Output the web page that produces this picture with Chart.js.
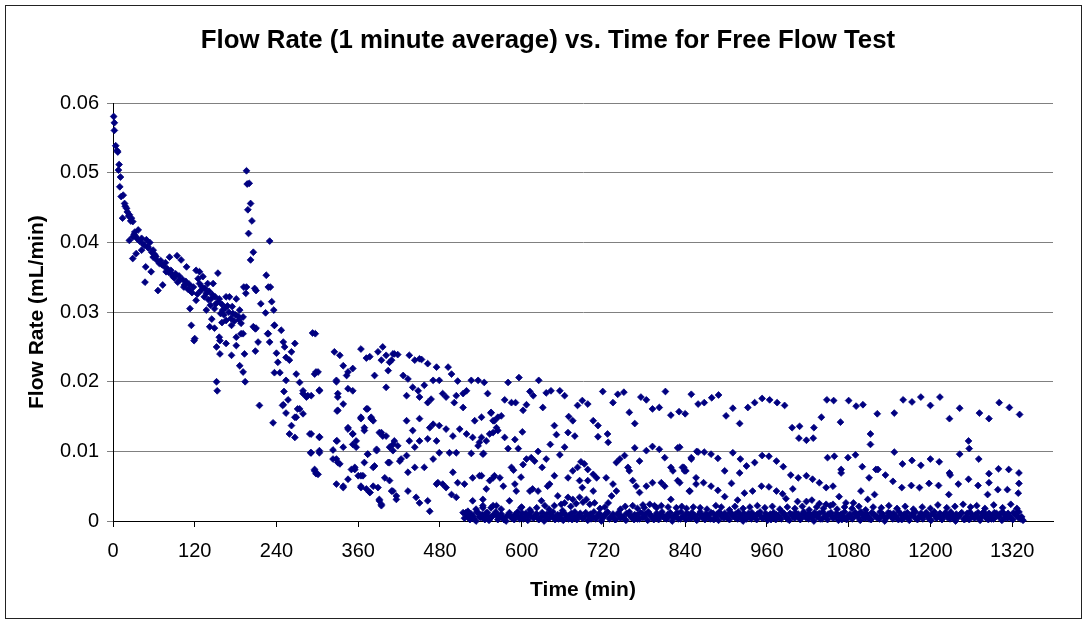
<!DOCTYPE html>
<html>
<head>
<meta charset="utf-8">
<title>Flow Rate vs. Time</title>
<script src="https://cdn.jsdelivr.net/npm/chart.js@4.4.1/dist/chart.umd.min.js"></script>
<style>
  html, body { margin: 0; padding: 0; background: #fff; }
  #wrap { position: relative; width: 1086px; height: 620px; }
  #frame { position: absolute; left: 5px; top: 5px; width: 1077px; height: 614px;
           border: 1px solid #222; box-sizing: border-box; pointer-events: none; }
  #chart { position: absolute; left: 0; top: 0; }
</style>
</head>
<body>
<div id="wrap">
  <canvas id="chart" width="1086" height="620"></canvas>
  <div id="frame"></div>
</div>
<script>
// Chart text
const chartTitle = 'Flow Rate (1 minute average) vs. Time for Free Flow Test';
const xTitle = 'Time (min)';
const yTitle = 'Flow Rate (mL/min)';

// Tick labels
const xTickValues = [0, 120, 240, 360, 480, 600, 720, 840, 960, 1080, 1200, 1320];
const yTickValues = [0, 0.01, 0.02, 0.03, 0.04, 0.05, 0.06];

// [time (min), flow rate (mL/min)]
const earlyDecay = [
  [1,0.0581],[2,0.0572],[2,0.0561],[4,0.0539],[6,0.0532],[7,0.0530],[9,0.0512],[8,0.0504],[11,0.0494],[10,0.0480],
  [15,0.0468],[12,0.0466],[17,0.0456],[20,0.0449],[14,0.0435],[24,0.0440],[27,0.0435],[29,0.0430],[32,0.0415],[29,0.0408],
  [24,0.0403],[37,0.0418],[42,0.0406],[49,0.0404],[54,0.0400],[51,0.0394],[34,0.0384],[29,0.0377],[42,0.0389],[59,0.0389],
  [59,0.0379],[64,0.0375],[68,0.0370],[48,0.0365],[83,0.0379],[94,0.0381],[100,0.0375],[56,0.0358],[47,0.0343],[66,0.0331],
  [73,0.0339],[78,0.0358],[88,0.0351],[98,0.0346],[108,0.0365],[105,0.0339],[122,0.0360],[127,0.0358],[132,0.0351],[127,0.0341],
  [139,0.0341],[147,0.0341],[154,0.0356],[113,0.0331],[122,0.0317],[113,0.0305],[137,0.0327],[144,0.0319],[156,0.0319],[166,0.0322],
  [171,0.0322],[181,0.0319],[137,0.0303],[149,0.0305],[161,0.0303],[166,0.0288],[176,0.0298],[186,0.0303],[191,0.0293],[115,0.0281],
  [120,0.0262],[142,0.0279],[149,0.0277],[156,0.0264],[174,0.0281],[181,0.0264],[191,0.0269],[196,0.0336],[208,0.0334],[210,0.0331],
  [217,0.0312],[224,0.0299],[228,0.0336],[231,0.0336],[225,0.0353],[233,0.0315],[236,0.0303],[237,0.0281],[247,0.0274],[206,0.0279],
  [210,0.0277],[228,0.0269],[18,0.0452],[21,0.0444],[23,0.0438],[26,0.0431],[31,0.0412],[33,0.0409],[36,0.0405],[39,0.0402],
  [44,0.0398],[46,0.0396],[52,0.0392],[57,0.0386],[61,0.0383],[63,0.0380],[70,0.0374],[72,0.0368],[75,0.0366],[77,0.0371],
  [80,0.0362],[82,0.0357],[85,0.0360],[87,0.0354],[90,0.0349],[92,0.0355],[95,0.0343],[97,0.0352],[102,0.0347],[104,0.0336],
  [107,0.0344],[110,0.0333],[112,0.0340],[116,0.0328],[118,0.0336],[124,0.0326],[129,0.0331],[134,0.0322],[140,0.0318],[143,0.0310],
  [151,0.0312],[158,0.0298],[163,0.0296],[168,0.0309],[173,0.0291],[178,0.0287],[184,0.0294],[188,0.0284],
  [125,0.0348],[130,0.0337],[135,0.0334],[141,0.0330],[146,0.0325],[150,0.0322],[155,0.0315],[160,0.0311],[165,0.0306],[170,0.0300],
  [175,0.0308],[180,0.0296],[185,0.0289],[145,0.0290],[160,0.0285],
  [196,0.0503],[197,0.0484],[200,0.0485],[202,0.0456],[198,0.0447],[204,0.0431],[199,0.0413],[206,0.0386],[202,0.0375],[230,0.0402],
  [192,0.0336],[195,0.0327],[119,0.0259],[157,0.0259],[157,0.0240],[152,0.0250],[166,0.0255],[174,0.0238],[181,0.0252],[186,0.0223],
  [191,0.0214],[194,0.0200],[152,0.0200],[153,0.0187],[188,0.0269],[193,0.0240],[209,0.0244],[213,0.0257],[209,0.0276],[215,0.0166],
  [227,0.0269],[230,0.0257],[237,0.0281],[240,0.0241],[242,0.0228],[237,0.0213],[245,0.0213],[235,0.0141],[249,0.0166]
];

const transition = [
  [250,0.0257],[252,0.0250],[259,0.0231],[254,0.0235],[267,0.0255],[262,0.0243],[254,0.0202],[251,0.0186],[257,0.0174],[250,0.0167],
  [269,0.0211],[274,0.0199],[279,0.0187],[284,0.0178],[271,0.0161],[279,0.0154],[291,0.0180],[296,0.0211],[298,0.0214],[303,0.0187],
  [297,0.0269],[325,0.0243],[328,0.0200],[330,0.0183],[330,0.0159],[267,0.0149],[254,0.0155],[262,0.0137],[259,0.0125],[267,0.0120],
  [269,0.0149],[274,0.0161],[279,0.0183],[286,0.0180],[289,0.0125],[290,0.0098],[296,0.0074],[298,0.0068],[303,0.0121],[303,0.0098],
  [293,0.0270],[301,0.0214],[303,0.0188],[323,0.0102],[328,0.0089],[330,0.0084],[329,0.0115],[328,0.0053],[338,0.0048],[345,0.0060],
  [328,0.0202],[330,0.0178],[329,0.0158],[338,0.0168],[333,0.0238],[338,0.0223],[345,0.0214],[352,0.0219],[343,0.0209],[345,0.0190],
  [352,0.0187],[364,0.0149],[372,0.0161],[379,0.0149],[382,0.0144],[369,0.0134],[345,0.0134],[352,0.0125],[357,0.0115],[357,0.0106],
  [350,0.0074],[355,0.0074],[360,0.0065],[367,0.0065],[364,0.0050],[372,0.0046],[377,0.0041],[369,0.0084],[374,0.0096],[384,0.0079],
  [387,0.0101],[382,0.0050],[389,0.0048],[391,0.0029],[394,0.0022],[364,0.0247],[372,0.0234],[377,0.0236],[389,0.0243],[396,0.0250],
  [384,0.0209],[394,0.0231],[401,0.0192],[404,0.0216],[409,0.0231],[411,0.0240],[394,0.0127],[401,0.0122],[404,0.0084],[406,0.0106],
  [411,0.0101],[399,0.0062],[406,0.0058],[411,0.0043],[416,0.0031],[413,0.0115],[401,0.0238],[406,0.0228],[413,0.0240],[418,0.0239],
  [435,0.0238],[443,0.0231],[450,0.0233],[453,0.0232],[462,0.0226],[475,0.0221],[492,0.0221],[497,0.0211],[506,0.0201],[426,0.0209],
  [433,0.0204],[440,0.0192],[448,0.0187],[457,0.0195],[450,0.0178],[462,0.0170],[467,0.0175],[431,0.0180],[470,0.0202],[479,0.0202],
  [484,0.0183],[489,0.0178],[504,0.0180],[514,0.0183],[519,0.0187],[501,0.0170],[514,0.0163],[431,0.0144],[440,0.0130],[450,0.0147],
  [465,0.0134],[470,0.0139],[479,0.0137],[489,0.0132],[499,0.0122],[509,0.0132],[519,0.0125],[435,0.0115],[443,0.0106],[450,0.0115],
  [462,0.0118],[475,0.0115],[479,0.0098],[494,0.0098],[504,0.0098],[345,0.0132],[352,0.0125],[364,0.0147],[374,0.0161],[379,0.0147],
  [369,0.0130],[391,0.0127],[396,0.0122],[411,0.0110],[418,0.0108],[431,0.0094],[423,0.0089],[328,0.0115],[338,0.0106],[352,0.0110],
  [323,0.0089],[333,0.0082],[355,0.0077],[364,0.0065],[382,0.0077],[374,0.0096],[387,0.0103],[406,0.0084],[421,0.0086],[433,0.0070],
  [443,0.0077],[457,0.0077],[470,0.0089],[475,0.0053],[484,0.0053],[499,0.0070],[506,0.0055],[516,0.0053],[338,0.0050],[364,0.0048],
  [377,0.0041],[391,0.0031],[394,0.0024],[409,0.0043],[416,0.0036],[433,0.0043],[445,0.0034],[450,0.0026],[462,0.0029],[465,0.0014],
  [477,0.0055],[489,0.0048],[497,0.0038],[504,0.0034],[514,0.0012],[291,0.0125],[303,0.0120],[291,0.0098],[303,0.0101],[296,0.0072],
  [301,0.0067]
];

const lateUpper = [
  [526,0.0202],[536,0.0202],[545,0.0199],[550,0.0183],[531,0.0144],[541,0.0149],[555,0.0156],[558,0.0144],[563,0.0134],[528,0.0120],
  [541,0.0120],[536,0.0108],[526,0.0097],[543,0.0096],[528,0.0062],[541,0.0065],[558,0.0062],[521,0.0014],[528,0.0029],[533,0.0017],
  [543,0.0022],[548,0.0012],[558,0.0022],[563,0.0010],[580,0.0199],[596,0.0206],[625,0.0202],[575,0.0174],[585,0.0170],[591,0.0170],
  [607,0.0167],[602,0.0159],[612,0.0186],[617,0.0180],[631,0.0163],[636,0.0184],[643,0.0187],[656,0.0187],[663,0.0180],[682,0.0166],
  [689,0.0173],[697,0.0168],[719,0.0186],[734,0.0170],[741,0.0182],[750,0.0185],[758,0.0156],[766,0.0140],[775,0.0178],[783,0.0174],
  [792,0.0161],[802,0.0163],[811,0.0186],[819,0.0152],[831,0.0157],[840,0.0154],[849,0.0182],[859,0.0168],[555,0.0155],[560,0.0144],
  [565,0.0149],[570,0.0151],[558,0.0127],[565,0.0130],[553,0.0125],[575,0.0120],[590,0.0117],[601,0.0128],[648,0.0137],[651,0.0124],
  [642,0.0110],[669,0.0150],[675,0.0144],[668,0.0127],[678,0.0122],[705,0.0144],[712,0.0137],[712,0.0121],[726,0.0125],[727,0.0113],
  [766,0.0105],[783,0.0101],[792,0.0107],[802,0.0103],[829,0.0105],[857,0.0100],[538,0.0113],[548,0.0115],[544,0.0097],[580,0.0104],
  [595,0.0104],[624,0.0100],[656,0.0095],[663,0.0106],[607,0.0089],[614,0.0091],[619,0.0086],[636,0.0089],[630,0.0077],[602,0.0081],
  [585,0.0077],[588,0.0073],[599,0.0063],[590,0.0053],[592,0.0043],[582,0.0029],[599,0.0019],[568,0.0062],[560,0.0065],[553,0.0058],
  [548,0.0046],[573,0.0050],[538,0.0065],[543,0.0031],[543,0.0019],[555,0.0019],[563,0.0022],[570,0.0017],[612,0.0043],[616,0.0046],
  [624,0.0043],[629,0.0029],[634,0.0022],[638,0.0050],[641,0.0053],[648,0.0065],[653,0.0036],[648,0.0022],[658,0.0024],[663,0.0026],
  [668,0.0062],[675,0.0072],[682,0.0077],[687,0.0085],[692,0.0082],[697,0.0074],[705,0.0067],[710,0.0062],[685,0.0058],[697,0.0058],
  [689,0.0048],[705,0.0043],[668,0.0034],[675,0.0031],[685,0.0034],[695,0.0031],[707,0.0026],[724,0.0062],[734,0.0053],[727,0.0026],
  [732,0.0036],[739,0.0043],[739,0.0084],[744,0.0089],[751,0.0094],[756,0.0077],[758,0.0072],[763,0.0058],[768,0.0050],[773,0.0041],
  [763,0.0022],[773,0.0086],[783,0.0050],[792,0.0055],[805,0.0055],[810,0.0050],[810,0.0091],[819,0.0077],[822,0.0072],[829,0.0058],
  [836,0.0077],[839,0.0072],[847,0.0043],[849,0.0089],[856,0.0062],[819,0.0031],[788,0.0024],[795,0.0022],[805,0.0022],[780,0.0019],
  [827,0.0019],[868,0.0170],[879,0.0177],[889,0.0181],[900,0.0151],[910,0.0162],[920,0.0140],[932,0.0163],[942,0.0170],[953,0.0176],
  [964,0.0174],[975,0.0170],[986,0.0166],[997,0.0134],[1008,0.0136],[1007,0.0119],[1018,0.0116],[1028,0.0119],[1029,0.0134],[1040,0.0149],
  [1048,0.0174],[1058,0.0173],[1068,0.0142],[1080,0.0173],[1091,0.0165],[1101,0.0167],[1112,0.0125],[1112,0.0110],[1122,0.0154],[832,0.0106],
  [849,0.0091],[859,0.0099],[868,0.0099],[878,0.0096],[888,0.0090],[898,0.0072],[910,0.0098],[921,0.0089],[920,0.0069],[930,0.0079],
  [942,0.0084],[953,0.0094],[963,0.0093],[974,0.0086],[984,0.0078],[995,0.0066],[1006,0.0062],[1018,0.0065],[1027,0.0060],[1037,0.0055],
  [1047,0.0048],[1057,0.0050],[1049,0.0091],[1059,0.0093],[1069,0.0074],[1069,0.0069],[1079,0.0091],[1090,0.0095],[1100,0.0078],[1110,0.0062],
  [1120,0.0074],[832,0.0055],[838,0.0077],[841,0.0072],[846,0.0043],[856,0.0053],[867,0.0055],[878,0.0050],[888,0.0044],[898,0.0035],
  [908,0.0054],[917,0.0030],[927,0.0040],[939,0.0043],[952,0.0050],[963,0.0049],[974,0.0043],[983,0.0039],[988,0.0032],[998,0.0046],
  [1005,0.0028],[1018,0.0028],[1026,0.0030],[1037,0.0025],[1047,0.0024],[1057,0.0024],[1066,0.0035],[1076,0.0026],[1087,0.0026],[1098,0.0043],
  [1108,0.0031],[1118,0.0038],[1147,0.0155],[1160,0.0174],[1173,0.0171],[1186,0.0178],[1200,0.0166],[1214,0.0178],[1228,0.0147],[1243,0.0162],
  [1256,0.0115],[1257,0.0104],[1272,0.0155],[1286,0.0147],[1301,0.0170],[1316,0.0163],[1331,0.0153],[1123,0.0074],[1134,0.0066],[1145,0.0057],
  [1158,0.0048],[1172,0.0051],[1184,0.0048],[1198,0.0054],[1212,0.0051],[1227,0.0038],[1241,0.0053],[1256,0.0060],[1270,0.0051],[1284,0.0038],
  [1299,0.0045],[1313,0.0045],[1330,0.0054],[1329,0.0040],[1286,0.0055],[1147,0.0099],[1159,0.0082],[1173,0.0087],[1186,0.0080],[1200,0.0089],
  [1213,0.0085],[1228,0.0069],[1229,0.0066],[1243,0.0096],[1271,0.0089],[1286,0.0068],[1300,0.0075],[1315,0.0074],[1330,0.0069]
];

const lateLowBand = [
  [600,0.0020],[612,0.0016],[622,0.0019],[640,0.0017],[660,0.0015],[672,0.0021],[680,0.0025],[690,0.0027],[700,0.0024],[715,0.0018],
  [722,0.0020],[745,0.0017],[752,0.0021],[770,0.0018],[778,0.0023],[798,0.0019],[815,0.0020],[835,0.0021],[842,0.0018],[852,0.0020],
  [862,0.0019],[872,0.0017],[885,0.0022],[893,0.0020],[905,0.0016],[913,0.0021],[925,0.0018],[935,0.0020],[946,0.0022],[957,0.0019],
  [968,0.0021],[979,0.0017],[990,0.0020],[1001,0.0018],[1012,0.0021],[1022,0.0016],[1033,0.0020],[1043,0.0018],[1053,0.0022],[1063,0.0017],
  [1074,0.0020],[1085,0.0018],[1095,0.0021],[1105,0.0016],[1116,0.0020],[1128,0.0019],[1139,0.0022],[1151,0.0018],[1163,0.0021],[1175,0.0017],
  [1188,0.0020],[1200,0.0018],[1211,0.0023],[1224,0.0019],[1236,0.0021],[1248,0.0024],[1259,0.0020],[1268,0.0022],[1280,0.0018],[1293,0.0023],
  [1306,0.0019],[1318,0.0024],[1327,0.0018]
];

const baselineA = [
  [516,0.0004],[520,0.0009],[524,0.0002],[529,0.0007],[533,0.0000],[537,0.0011],[540,0.0005],[545,0.0003],[549,0.0008],[552,0.0001],
  [556,0.0006],[561,0.0010],[565,0.0002],[569,0.0007],[573,0.0004],[577,0.0000],[581,0.0009],[585,0.0005],[589,0.0002],[593,0.0008],
  [597,0.0003],[601,0.0011],[605,0.0006],[609,0.0001],[613,0.0007],[617,0.0004],[621,0.0009],[625,0.0002],[629,0.0006],[633,0.0000],
  [637,0.0010],[641,0.0004],[645,0.0007],[649,0.0002],[653,0.0009],[657,0.0005],[661,0.0001],[665,0.0008],[669,0.0003],[673,0.0011],
  [677,0.0006],[681,0.0002],[685,0.0009],[689,0.0004],[693,0.0007],[697,0.0001],[701,0.0010],[705,0.0005],[709,0.0003],[713,0.0008],
  [717,0.0000],[721,0.0006],[725,0.0011],[729,0.0003],[733,0.0007],[737,0.0002],[741,0.0009],[745,0.0004],[749,0.0006],[753,0.0001],
  [757,0.0010],[761,0.0005],[765,0.0002],[769,0.0008],[773,0.0003],[777,0.0011],[781,0.0006],[785,0.0001],[789,0.0009],[793,0.0004],
  [797,0.0007],[801,0.0002],[805,0.0010],[809,0.0005],[813,0.0003],[817,0.0008],[821,0.0000],[825,0.0006],[829,0.0011],[833,0.0003],
  [837,0.0007],[841,0.0002],[845,0.0009],[849,0.0004],[853,0.0006],[857,0.0001],[861,0.0010],[865,0.0005],[869,0.0002],[873,0.0008],
  [877,0.0003],[881,0.0011],[885,0.0006],[889,0.0001],[893,0.0009],[897,0.0004],[901,0.0007],[905,0.0002],[909,0.0010],[913,0.0005],
  [917,0.0003]
];

const baselineB = [
  [921,0.0008],[925,0.0000],[929,0.0006],[933,0.0011],[937,0.0003],[941,0.0007],[945,0.0002],[949,0.0009],[953,0.0004],[957,0.0006],
  [961,0.0001],[965,0.0010],[969,0.0005],[973,0.0002],[977,0.0008],[981,0.0003],[985,0.0011],[989,0.0006],[993,0.0001],[997,0.0009],
  [1001,0.0004],[1005,0.0007],[1009,0.0002],[1013,0.0010],[1017,0.0005],[1021,0.0003],[1025,0.0008],[1029,0.0000],[1033,0.0006],[1037,0.0011],
  [1041,0.0003],[1045,0.0007],[1049,0.0002],[1053,0.0009],[1057,0.0004],[1061,0.0006],[1065,0.0001],[1069,0.0010],[1073,0.0005],[1077,0.0002],
  [1081,0.0008],[1085,0.0003],[1089,0.0011],[1093,0.0006],[1097,0.0001],[1101,0.0009],[1105,0.0004],[1109,0.0007],[1113,0.0002],[1117,0.0010],
  [1121,0.0005],[1125,0.0003],[1129,0.0008],[1133,0.0000],[1137,0.0006],[1141,0.0011],[1145,0.0003],[1149,0.0007],[1153,0.0002],[1157,0.0009],
  [1161,0.0004],[1165,0.0006],[1169,0.0001],[1173,0.0010],[1177,0.0005],[1181,0.0002],[1185,0.0008],[1189,0.0003],[1193,0.0011],[1197,0.0006],
  [1201,0.0001],[1205,0.0009],[1209,0.0004],[1213,0.0007],[1217,0.0002],[1221,0.0010],[1225,0.0005],[1229,0.0003],[1233,0.0008],[1237,0.0000],
  [1241,0.0006],[1245,0.0011],[1249,0.0003],[1253,0.0007],[1257,0.0002],[1261,0.0009],[1265,0.0004],[1269,0.0006],[1273,0.0001],[1277,0.0010],
  [1281,0.0005],[1285,0.0002],[1289,0.0008],[1293,0.0003],[1297,0.0011],[1301,0.0006],[1305,0.0001],[1309,0.0009],[1313,0.0004],[1317,0.0007],
  [1321,0.0002],[1325,0.0010],[1329,0.0005],[1333,0.0003],[1336,0.0001]
];

const baselineC = [
  [518,0.0012],[522,0.0005],[526,0.0010],[530,0.0003],[534,0.0013],[538,0.0006],[542,0.0009],[546,0.0002],[550,0.0012],[554,0.0004],
  [558,0.0008],[562,0.0013],[566,0.0005],[570,0.0010],[574,0.0002],[578,0.0007],[582,0.0012],[586,0.0004],[590,0.0009],[594,0.0013],
  [598,0.0006],[602,0.0003],[606,0.0011],[610,0.0008],[614,0.0013],[618,0.0005],[622,0.0010],[626,0.0003],[630,0.0012],[634,0.0007],
  [638,0.0004],[642,0.0011],[646,0.0013],[650,0.0006],[654,0.0003],[658,0.0010],[662,0.0012],[666,0.0005],[670,0.0008],[674,0.0002],
  [678,0.0013],[682,0.0007],[686,0.0011],[690,0.0004],[694,0.0012],[698,0.0008],[702,0.0003],[706,0.0013],[710,0.0006],[714,0.0011],
  [718,0.0004],[722,0.0009],[726,0.0013],[730,0.0005],[734,0.0010],[738,0.0002],[742,0.0012],[746,0.0007],[750,0.0004],[754,0.0011],
  [758,0.0013],[762,0.0006],[766,0.0009],[770,0.0003],[774,0.0012],[778,0.0005],[782,0.0010],[786,0.0013],[790,0.0007],[794,0.0002],
  [798,0.0011],[802,0.0006],[806,0.0013],[810,0.0004],[814,0.0009],[818,0.0012],[822,0.0005],[826,0.0010],[830,0.0003],[834,0.0013],
  [838,0.0006],[842,0.0011],[846,0.0004],[850,0.0012],[854,0.0008],[858,0.0003],[862,0.0013],[866,0.0007],[870,0.0010],[874,0.0005],
  [878,0.0012],[882,0.0002],[886,0.0009],[890,0.0013],[894,0.0006],[898,0.0011],[902,0.0004],[906,0.0012],[910,0.0007],[914,0.0010],
  [918,0.0013],[922,0.0005],[926,0.0011],[930,0.0003],[934,0.0008],[938,0.0012],[942,0.0006],[946,0.0010],[950,0.0013],[954,0.0004],
  [958,0.0011],[962,0.0007],[966,0.0002],[970,0.0012],[974,0.0009],[978,0.0005],[982,0.0013],[986,0.0008],[990,0.0003],[994,0.0011],
  [998,0.0006],[1002,0.0012],[1006,0.0010],[1010,0.0004],[1014,0.0013],[1018,0.0007],[1022,0.0011],[1026,0.0005],[1030,0.0012],[1034,0.0009],
  [1038,0.0003],[1042,0.0013],[1046,0.0006],[1050,0.0010],[1054,0.0012],[1058,0.0005],[1062,0.0011],[1066,0.0008],[1070,0.0002],[1074,0.0013],
  [1078,0.0006],[1082,0.0010],[1086,0.0004],[1090,0.0012],[1094,0.0009],[1098,0.0013],[1102,0.0005],[1106,0.0011],[1110,0.0003],[1114,0.0012],
  [1118,0.0008],[1122,0.0006],[1126,0.0013],[1130,0.0010],[1134,0.0004],[1138,0.0012],[1142,0.0007],[1146,0.0011],[1150,0.0005],[1154,0.0013],
  [1158,0.0002],[1162,0.0010],[1166,0.0012],[1170,0.0006],[1174,0.0009],[1178,0.0013],[1182,0.0004],[1186,0.0011],[1190,0.0007],[1194,0.0012],
  [1198,0.0003],[1202,0.0010],[1206,0.0013],[1210,0.0006],[1214,0.0011],[1218,0.0005],[1222,0.0012],[1226,0.0008],[1230,0.0013],[1234,0.0004],
  [1238,0.0010],[1242,0.0007],[1246,0.0012],[1250,0.0002],[1254,0.0011],[1258,0.0013],[1262,0.0006],[1266,0.0009],[1270,0.0012],[1274,0.0005],
  [1278,0.0013],[1282,0.0008],[1286,0.0011],[1290,0.0003],[1294,0.0012],[1298,0.0007],[1302,0.0010],[1306,0.0013],[1310,0.0005],[1314,0.0011],
  [1318,0.0004],[1322,0.0012],[1326,0.0008],[1330,0.0013],[1334,0.0006]
];

const markerColor = '#000080';
const fontFamily = "'Liberation Sans', Arial, Helvetica, sans-serif";

const points = [...earlyDecay, ...transition, ...lateUpper, ...lateLowBand, ...baselineA, ...baselineB, ...baselineC]
  .map(p => ({ x: p[0], y: p[1] }));

new Chart(document.getElementById('chart'), {
  type: 'scatter',
  data: {
    datasets: [{
      data: points,
      pointStyle: 'rectRot',
      pointRadius: 3.4,
      pointBorderWidth: 0.8,
      backgroundColor: markerColor,
      borderColor: markerColor,
      clip: false
    }]
  },
  options: {
    responsive: false,
    animation: false,
    events: [],
    layout: { padding: { left: 10, right: 0, top: 0, bottom: 0 } },
    plugins: {
      legend: { display: false },
      tooltip: { enabled: false },
      title: {
        display: true,
        text: chartTitle,
        color: '#000',
        font: { family: fontFamily, size: 25.8, weight: 'bold' },
        padding: { top: 25, bottom: 47.3 }
      }
    },
    scales: {
      x: {
        type: 'linear',
        min: 0,
        max: 1380,
        afterBuildTicks: s => { s.ticks = xTickValues.map(v => ({ value: v })); },
        afterFit: s => { s.height = 99; },
        grid: { drawOnChartArea: false, drawTicks: true, tickLength: 6, tickColor: '#000' },
        border: { color: '#000', width: 1 },
        ticks: {
          color: '#000',
          font: { family: fontFamily, size: 20 },
          padding: 12,
          maxRotation: 0,
          autoSkip: false,
          callback: v => String(v)
        },
        title: {
          display: true,
          text: xTitle,
          color: '#000',
          font: { family: fontFamily, size: 21, weight: 'bold' },
          padding: { top: 0, bottom: 17.4 }
        }
      },
      y: {
        type: 'linear',
        min: 0,
        max: 0.06,
        afterBuildTicks: s => { s.ticks = yTickValues.map(v => ({ value: v })); },
        afterFit: s => { s.width = 103; },
        grid: { color: '#808080', lineWidth: 1, tickLength: 6, tickColor: '#808080' },
        border: { color: '#000', width: 1 },
        ticks: {
          color: '#000',
          font: { family: fontFamily, size: 20 },
          padding: 8,
          callback: v => String(+v.toFixed(2))
        },
        title: {
          display: true,
          text: yTitle,
          color: '#000',
          font: { family: fontFamily, size: 21, weight: 'bold' },
          padding: { top: 14.4, bottom: 0 }
        }
      },
      // empty right-hand band so the plot stops short of the frame
      yRight: {
        type: 'linear',
        position: 'right',
        afterFit: s => { s.width = 33; },
        grid: { display: false },
        border: { display: false },
        ticks: { display: false },
        title: { display: false }
      }
    }
  }
});
</script>
</body>
</html>
